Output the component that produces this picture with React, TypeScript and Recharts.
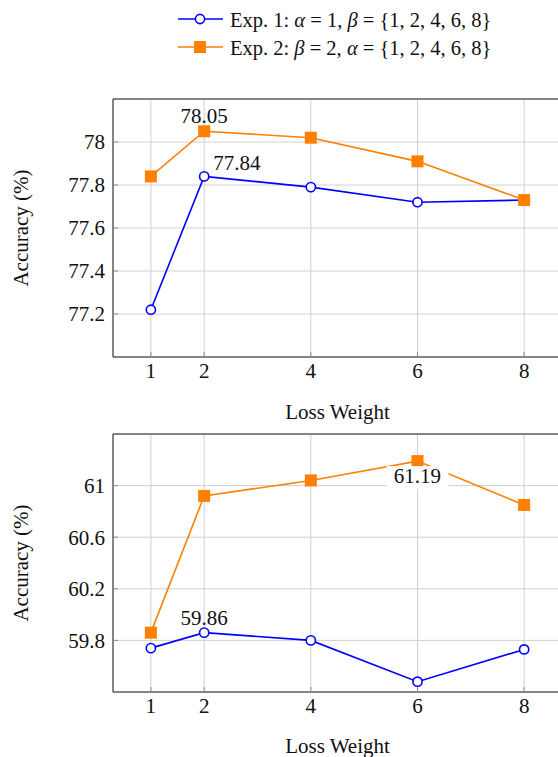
import {
  CartesianGrid,
  LabelList,
  Line,
  LineChart,
  ReferenceArea,
  XAxis,
  YAxis,
} from "recharts";

const lossWeights = [1, 2, 4, 6, 8];
const topExp1 = [77.22, 77.84, 77.79, 77.72, 77.73];
const topExp2 = [77.84, 78.05, 78.02, 77.91, 77.73];
const bottomExp1 = [59.74, 59.86, 59.8, 59.48, 59.73];
const bottomExp2 = [59.86, 60.92, 61.04, 61.19, 60.85];
const topTicks = [77.2, 77.4, 77.6, 77.8, 78];
const bottomTicks = [59.8, 60.2, 60.6, 61];
const topDomain = [77.0, 78.2];
const bottomDomain = [59.4, 61.4];
// loss weights that get their value printed next to the marker
const topExp1Notes = [2];
const topExp2Notes = [2];
const bottomExp1Notes = [2];
const bottomExp2Notes = [6];

const FONT = '"Liberation Serif", "Times New Roman", serif';
const FS = 21;
const BLUE = "#0000ff";
const ORANGE = "#ff8000";
const TEXT = "#111";
const xDomain = [0.29, 8.71];

function CircleDot(props: any) {
  const { cx, cy } = props;
  if (cx == null || cy == null) return null;
  return <circle cx={cx} cy={cy} r={4.6} fill="#fff" stroke={BLUE} strokeWidth={1.6} />;
}

function SquareDot(props: any) {
  const { cx, cy } = props;
  if (cx == null || cy == null) return null;
  return <rect x={cx - 6} y={cy - 6} width={12} height={12} fill={ORANGE} />;
}

type Place = "above" | "aboveRight" | "belowBox";

function noteContent(notes: number[], place: Place) {
  return (props: any) => {
    const vb = props.viewBox || {};
    const x = vb.x ?? props.x;
    const y = vb.y ?? props.y;
    const lw = props.index != null ? lossWeights[props.index] : props.payload?.lw;
    if (x == null || !notes.includes(lw)) return null;
    const text = Number(props.value).toFixed(2);
    const common = { fontFamily: FONT, fontSize: FS, fill: TEXT };
    if (place === "aboveRight") {
      return (
        <text x={x + 9} y={y - 6} textAnchor="start" {...common}>
          {text}
        </text>
      );
    }
    if (place === "belowBox") {
      return (
        <g>
          <rect x={x - 31} y={y + 5} width={62} height={23} fill="#fff" />
          <text x={x} y={y + 22} textAnchor="middle" {...common}>
            {text}
          </text>
        </g>
      );
    }
    return (
      <text x={x} y={y - 8} textAnchor="middle" {...common}>
        {text}
      </text>
    );
  };
}

interface PanelProps {
  height: number;
  marginTop: number;
  marginBottom: number;
  exp1: number[];
  exp2: number[];
  yDomain: number[];
  yTicks: number[];
  notes1: number[];
  notes2: number[];
  place1: Place;
  place2: Place;
  xLabelOffset: number;
}

function Panel(p: PanelProps) {
  const data = lossWeights.map((lw, i) => ({ lw, exp1: p.exp1[i], exp2: p.exp2[i] }));
  const tick = { fill: TEXT, fontSize: FS, fontFamily: FONT };
  const tickLine = { stroke: "#8c8c8c", strokeWidth: 1 };
  return (
    <LineChart
      width={620}
      height={p.height}
      data={data}
      margin={{ top: p.marginTop, right: 58, bottom: p.marginBottom, left: 0 }}
    >
      <CartesianGrid stroke="#d0d0d0" strokeWidth={1} />
      <XAxis
        type="number"
        dataKey="lw"
        domain={xDomain}
        ticks={lossWeights}
        allowDataOverflow
        axisLine={false}
        tickLine={tickLine}
        tickSize={-5}
        height={30}
        tickMargin={11}
        tick={tick}
        label={{
          value: "Loss Weight",
          position: "bottom",
          offset: p.xLabelOffset,
          fill: TEXT,
          fontSize: FS,
          fontFamily: FONT,
        }}
      />
      <XAxis
        xAxisId="top"
        orientation="top"
        type="number"
        domain={xDomain}
        ticks={lossWeights}
        allowDataOverflow
        axisLine={false}
        tickLine={tickLine}
        tickSize={-5}
        height={0}
        tick={false}
      />
      <YAxis
        type="number"
        domain={p.yDomain}
        ticks={p.yTicks}
        allowDataOverflow
        width={113}
        axisLine={false}
        tickLine={tickLine}
        tickSize={-5}
        tickMargin={13}
        tick={tick}
        label={{
          value: "Accuracy (%)",
          angle: -90,
          position: "insideLeft",
          offset: 21,
          textAnchor: "middle",
          style: { textAnchor: "middle" },
          fill: TEXT,
          fontSize: FS,
          fontFamily: FONT,
        }}
      />
      <ReferenceArea
        x1={xDomain[0]}
        x2={xDomain[1]}
        y1={p.yDomain[0]}
        y2={p.yDomain[1]}
        fill="none"
        fillOpacity={0}
        stroke="#222"
        strokeWidth={1}
      />
      <Line
        dataKey="exp1"
        stroke={BLUE}
        strokeWidth={1.6}
        dot={<CircleDot />}
        activeDot={false}
        isAnimationActive={false}
      >
        <LabelList dataKey="exp1" content={noteContent(p.notes1, p.place1)} />
      </Line>
      <Line
        dataKey="exp2"
        stroke={ORANGE}
        strokeWidth={1.6}
        dot={<SquareDot />}
        activeDot={false}
        isAnimationActive={false}
      >
        <LabelList dataKey="exp2" content={noteContent(p.notes2, p.place2)} />
      </Line>
    </LineChart>
  );
}

function LegendRow({ color, square, children }: { color: string; square?: boolean; children: any }) {
  return (
    <div style={{ display: "flex", alignItems: "flex-start", height: 28 }}>
      <svg width={46} height={28} style={{ flex: "none" }}>
        <line x1={0} x2={45} y1={13} y2={13} stroke={color} strokeWidth={1.6} />
        {square ? (
          <rect x={16} y={7} width={12} height={12} fill={color} />
        ) : (
          <circle cx={22} cy={13} r={4.6} fill="#fff" stroke={color} strokeWidth={1.6} />
        )}
      </svg>
      <span style={{ marginLeft: 6, lineHeight: "28px", whiteSpace: "nowrap" }}>{children}</span>
    </div>
  );
}

export default function App() {
  return (
    <div
      style={{
        position: "absolute",
        left: 0,
        top: 0,
        width: 558,
        height: 757,
        overflow: "hidden",
        background: "#fff",
        fontFamily: FONT,
        fontSize: 20.5,
        color: TEXT,
      }}
    >
      <div style={{ position: "absolute", left: 178, top: 6 }}>
        <LegendRow color={BLUE}>
          Exp. 1: <i>α</i> = 1, <i>β</i> = {"{1, 2, 4, 6, 8}"}
        </LegendRow>
        <LegendRow color={ORANGE} square>
          Exp. 2: <i>β</i> = 2, <i>α</i> = {"{1, 2, 4, 6, 8}"}
        </LegendRow>
      </div>
      <div style={{ position: "absolute", left: 0, top: 0 }}>
        <Panel
          height={430}
          marginTop={99}
          marginBottom={43}
          exp1={topExp1}
          exp2={topExp2}
          yDomain={topDomain}
          yTicks={topTicks}
          notes1={topExp1Notes}
          notes2={topExp2Notes}
          place1="aboveRight"
          place2="above"
          xLabelOffset={17}
        />
      </div>
      <div style={{ position: "absolute", left: 0, top: 430 }}>
        <Panel
          height={327}
          marginTop={4}
          marginBottom={35}
          exp1={bottomExp1}
          exp2={bottomExp2}
          yDomain={bottomDomain}
          yTicks={bottomTicks}
          notes1={bottomExp1Notes}
          notes2={bottomExp2Notes}
          place1="above"
          place2="belowBox"
          xLabelOffset={16}
        />
      </div>
    </div>
  );
}
